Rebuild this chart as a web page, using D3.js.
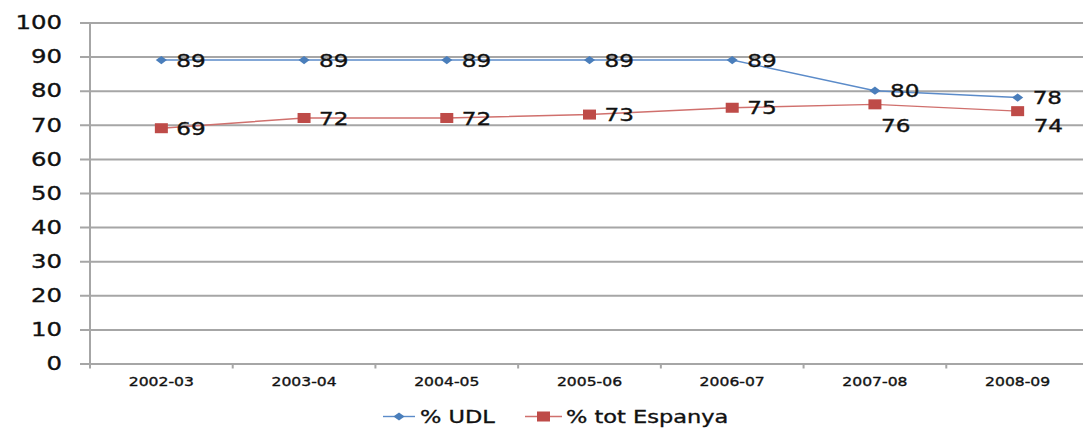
<!DOCTYPE html>
<html>
<head>
<meta charset="utf-8">
<script src="https://cdn.jsdelivr.net/npm/d3@7"></script>
<style>
  body { margin: 0; background: #fff; }
  text { font-family: "DejaVu Sans", Verdana, sans-serif; fill: #111; stroke: #111; stroke-width: 0.35px; }
</style>
</head>
<body>
<div id="chart"></div>
<script>
// course labels on the x axis
const courses = ['2002-03', '2003-04', '2004-05', '2005-06', '2006-07', '2007-08', '2008-09'];
// series values (%)
const udl = [89, 89, 89, 89, 89, 80, 78];
const espanya = [69, 72, 72, 73, 75, 76, 74];
const yTicks = [0, 10, 20, 30, 40, 50, 60, 70, 80, 90, 100];
const seriesNames = ['% UDL', '% tot Espanya'];
// where each data label sits relative to its point
const udlLabelPos = ['right', 'right', 'right', 'right', 'right', 'right', 'right'];
const espLabelPos = ['right', 'right', 'right', 'right', 'right', 'below', 'belowRight'];

const w = 1083, h = 428;
const sx = 1.25; // the original picture is stretched horizontally
const blue = '#4a7ebb', red = '#be4b48', gridGrey = '#a6a6a6';
const padding = { left: 90, right: 1089, top: 22.5, bottom: 363.5 };

const svg = d3.select('#chart').append('svg')
  .attr('width', w).attr('height', h);

const x = d3.scaleBand().domain(courses).range([padding.left, padding.right]);
const y = d3.scaleLinear().domain([0, 100]).range([padding.bottom, padding.top]);
const cx = d => x(d) + x.bandwidth() / 2;

function stretch(sel) {
  sel.each(function () {
    const t = d3.select(this);
    const tx = +t.attr('x') || 0, ty = +t.attr('y') || 0;
    t.attr('x', 0).attr('y', 0)
      .attr('transform', `translate(${tx},${ty}) scale(${sx},1)`);
  });
}

// grid lines + y labels
const yAxis = d3.axisLeft(y).tickValues(yTicks)
  .tickSize(-(padding.right - 80)).tickPadding(18);
const gy = svg.append('g').attr('transform', 'translate(80,0)').call(yAxis);
gy.select('.domain').remove();
gy.selectAll('.tick line').attr('stroke', gridGrey).attr('stroke-width', 2);
gy.selectAll('.tick text').style('font-size', '19.5px').attr('fill', '#111')
  .style('font-family', '"DejaVu Sans", Verdana, sans-serif');
stretch(gy.selectAll('.tick text'));

// y axis line
svg.append('line')
  .attr('x1', padding.left).attr('x2', padding.left)
  .attr('y1', padding.top).attr('y2', padding.bottom + 5)
  .attr('stroke', gridGrey).attr('stroke-width', 2);

// x axis tick marks at category boundaries
svg.selectAll('.xtick').data(courses.slice(1)).enter().append('line')
  .attr('class', 'xtick')
  .attr('x1', d => x(d)).attr('x2', d => x(d))
  .attr('y1', padding.bottom).attr('y2', padding.bottom + 5)
  .attr('stroke', gridGrey).attr('stroke-width', 2);

// x labels
const xAxis = d3.axisBottom(x).tickSize(0).tickPadding(13.5);
const gx = svg.append('g').attr('transform', `translate(0,${padding.bottom})`).call(xAxis);
gx.select('.domain').remove();
gx.selectAll('.tick text').style('font-size', '12.5px').attr('fill', '#111')
  .style('font-family', '"DejaVu Sans", Verdana, sans-serif');
stretch(gx.selectAll('.tick text'));

// series
const line = d3.line().x((d, i) => cx(courses[i])).y(d => y(d));

svg.append('path').datum(udl).attr('d', line)
  .attr('fill', 'none').attr('stroke', '#5b8bc9').attr('stroke-width', 1.4);
svg.append('path').datum(espanya).attr('d', line)
  .attr('fill', 'none').attr('stroke', '#d0706d').attr('stroke-width', 1.4);

const diamond = d3.symbol().type(d3.symbolDiamond2).size(60);

svg.selectAll('.udl').data(udl).enter().append('path')
  .attr('class', 'udl')
  .attr('d', diamond)
  .attr('transform', (d, i) => `translate(${cx(courses[i])},${y(d)}) scale(1.15,0.85)`)
  .attr('fill', blue);

svg.selectAll('.esp').data(espanya).enter().append('rect')
  .attr('class', 'esp')
  .attr('x', (d, i) => cx(courses[i]) - 6.5)
  .attr('y', d => y(d) - 5)
  .attr('width', 13).attr('height', 10)
  .attr('fill', red);

// data labels
const offsets = {
  right: [15, 0],
  below: [6, 21],
  belowRight: [16, 14.5]
};
function labels(vals, pos, cls) {
  const t = svg.selectAll('.' + cls).data(vals).enter().append('text')
    .attr('class', cls)
    .attr('x', (d, i) => cx(courses[i]) + offsets[pos[i]][0])
    .attr('y', (d, i) => y(d) + offsets[pos[i]][1])
    .style('font-size', '18.5px')
    .text(d => d);
  stretch(t);
  t.attr('dy', '0.36em');
}
labels(udl, udlLabelPos, 'lu');
labels(espanya, espLabelPos, 'le');

// legend
const legY = 416.5;
const leg = [
  { name: seriesNames[0], x0: 383, x1: 415, color: blue, line: '#5b8bc9', tx: 420 },
  { name: seriesNames[1], x0: 525, x1: 562, color: red, line: '#d0706d', tx: 566 }
];
leg.forEach((l, k) => {
  svg.append('line').attr('x1', l.x0).attr('x2', l.x1)
    .attr('y1', legY).attr('y2', legY)
    .attr('stroke', l.line).attr('stroke-width', 1.4);
  const mid = (l.x0 + l.x1) / 2;
  if (k === 0) {
    svg.append('path').attr('d', diamond)
      .attr('transform', `translate(${mid},${legY}) scale(1.15,0.85)`)
      .attr('fill', l.color);
  } else {
    svg.append('rect').attr('x', mid - 6.5).attr('y', legY - 5)
      .attr('width', 13).attr('height', 10).attr('fill', l.color);
  }
  const t = svg.append('text').attr('x', l.tx).attr('y', legY)
    .style('font-size', '18px').text(l.name);
  stretch(t);
  t.attr('dy', '0.36em');
});
</script>
</body>
</html>
